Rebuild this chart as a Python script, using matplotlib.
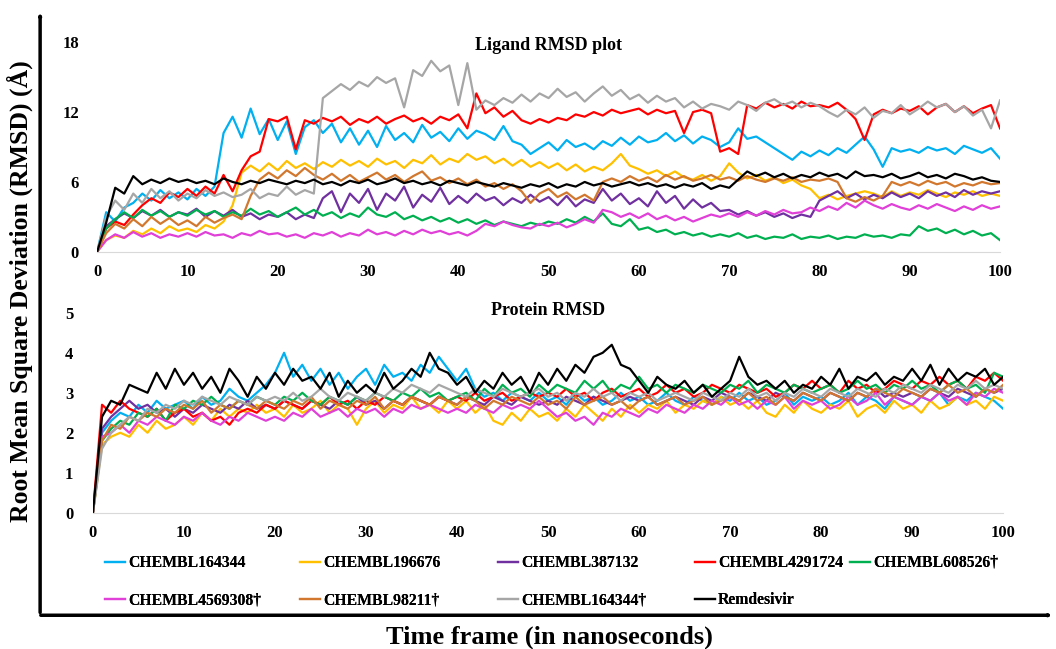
import matplotlib
matplotlib.use('Agg')
import matplotlib.pyplot as plt
import numpy as np

plt.rcParams['font.family'] = ['Liberation Serif', 'DejaVu Serif']
plt.rcParams['font.weight'] = 'bold'

# Tempo (ns), amostrado a cada 1 ns
tempo = np.arange(0, 101)

nomes = ['CHEMBL164344', 'CHEMBL196676', 'CHEMBL387132', 'CHEMBL4291724', 'CHEMBL608526\u2020',
         'CHEMBL4569308\u2020', 'CHEMBL98211\u2020', 'CHEMBL164344\u2020', 'Remdesivir']
cores = ['#00B0F0', '#FFC000', '#7030A0', '#FF0000', '#00B050',
         '#E040D8', '#D2782E', '#A6A6A6', '#000000']

# ---- Ligand RMSD (Å) ----
lig_164344 = [0, 3.4, 2.6, 3.8, 4.2, 5.0, 4.4, 5.3, 4.6, 5.1,
              4.5, 5.4, 4.8, 5.6, 10.2, 11.6, 9.8, 12.3, 10.1, 11.4,
              9.6, 11.2, 8.4, 10.7, 11.3, 10.2, 11.0, 9.4, 10.6, 9.2,
              10.4, 9.0, 10.8, 9.6, 10.2, 9.4, 10.9, 9.8, 10.3, 9.5,
              10.6, 9.7, 10.4, 10.1, 9.6, 10.8, 9.5, 9.2, 8.4, 8.9,
              9.4, 8.7, 9.6, 9.0, 9.3, 8.8, 9.5, 9.1, 9.8, 9.2,
              9.9, 9.4, 9.6, 10.2, 9.5, 10.0, 9.3, 9.9, 9.6, 9.0,
              9.4, 10.6, 9.7, 9.9, 9.4, 8.9, 8.4, 7.9, 8.6, 8.2,
              8.7, 8.3, 8.9, 8.5, 9.2, 9.9, 8.8, 7.3, 8.9, 8.6,
              8.8, 8.5, 9.0, 8.7, 8.9, 8.4, 9.1, 8.8, 8.5, 8.9, 8.0]
lig_196676 = [0, 1.0, 1.4, 1.2, 1.8, 1.5, 2.0, 1.6, 2.2, 1.8,
              2.0, 1.7, 2.3, 2.0, 2.6, 4.0, 6.8, 7.4, 6.9, 7.6,
              7.0, 7.8, 7.2, 7.6, 7.1, 7.7, 7.3, 7.9, 7.4, 7.8,
              7.3, 8.0, 7.5, 7.8, 7.2, 7.9, 7.6, 8.3, 7.5, 8.0,
              7.7, 8.4, 7.9, 8.2, 7.6, 8.0, 7.4, 7.9, 7.3, 7.7,
              7.2, 7.6, 7.0, 7.5, 6.9, 7.3, 7.0, 7.6, 8.4, 7.4,
              7.1, 6.7, 7.0, 6.5, 6.9, 6.4, 6.2, 6.6, 6.1, 6.5,
              7.6, 6.8, 6.3, 6.6, 6.1, 6.4, 5.9, 6.2, 5.7, 5.4,
              4.6, 4.9, 4.5, 4.8, 5.0, 5.2, 5.0, 4.7, 5.2, 4.8,
              5.1, 4.9, 5.3, 5.0, 4.7, 5.1, 4.9, 5.2, 4.8, 5.0, 4.8]
lig_387132 = [0, 2.2, 2.8, 3.3, 2.9, 3.5, 3.1, 3.6, 3.0, 3.4,
              3.2, 3.7, 3.0, 3.5, 3.1, 3.6, 3.0, 3.3, 2.8, 3.2,
              3.0, 3.4, 2.8, 3.2, 2.9, 4.6, 5.2, 3.4, 5.0, 4.2,
              5.4, 3.6, 5.0, 4.4, 5.6, 3.8, 4.9, 4.3, 5.5, 4.1,
              4.8, 4.2, 5.0, 4.4, 4.7, 4.0, 4.6, 4.2, 4.9, 4.3,
              4.7, 4.0, 4.8, 3.9, 4.5, 4.2, 5.4, 4.4, 5.0, 4.1,
              4.6, 3.9, 5.2, 4.2, 4.8, 3.7, 4.5, 3.8, 4.2, 3.5,
              3.6, 3.2, 3.5, 3.1, 3.4, 3.0, 3.3, 2.9, 3.2, 3.0,
              4.4, 4.8, 5.2, 4.6, 5.0, 4.5, 4.9, 4.6, 5.1, 4.7,
              5.0, 4.6, 5.2, 4.8, 5.1, 4.7, 5.3, 4.9, 5.2, 5.0, 5.2]
lig_4291724 = [0, 2.0, 2.6, 2.3, 3.2, 4.0, 4.6, 4.2, 5.1, 4.7,
               5.4, 4.8, 5.6, 5.0, 6.6, 5.2, 7.0, 8.2, 8.6, 11.4,
               11.2, 11.6, 8.8, 11.3, 11.0, 11.5, 11.2, 11.6, 10.9, 11.4,
               11.1, 11.6, 11.0, 11.4, 11.7, 11.2, 11.5, 11.0, 11.6, 11.3,
               11.8, 10.6, 13.6, 11.9, 12.4, 11.6, 12.1, 11.3, 11.0, 11.4,
               11.1, 11.5, 11.3, 11.8, 11.6, 12.0, 11.7, 12.2, 11.9, 12.1,
               12.3, 11.8, 12.2, 11.9, 12.1, 10.2, 12.0, 12.2, 11.9, 8.6,
               8.9, 8.4, 12.6, 12.3, 12.8, 12.4, 12.7, 12.3, 12.9, 12.5,
               12.6, 12.4, 12.8, 12.2, 11.4, 9.6, 11.8, 12.2, 11.9, 12.3,
               12.1, 12.5, 11.8, 12.4, 12.7, 12.0, 12.5, 11.9, 12.3, 12.6, 10.6]
lig_608526 = [0, 2.0, 2.8, 3.4, 2.9, 3.6, 3.1, 3.5, 3.0, 3.4,
              3.1, 3.6, 3.2, 3.5, 3.0, 3.4, 3.1, 3.7, 3.2, 3.5,
              3.0, 3.4, 3.8, 3.2, 3.6, 3.1, 3.4, 2.9, 3.3, 3.0,
              3.8, 3.2, 3.0, 3.4, 2.8, 3.1, 2.7, 3.0, 2.6, 2.9,
              2.5, 2.8, 2.4, 2.7, 2.3, 2.6, 2.4, 2.2, 2.5, 2.3,
              2.6, 2.4, 2.8, 2.5, 3.0, 2.6, 3.3, 2.4, 2.2, 2.8,
              1.9, 2.1, 1.7, 1.9, 1.5, 1.7, 1.4, 1.6, 1.3, 1.5,
              1.3, 1.6, 1.2, 1.4, 1.1, 1.3, 1.2, 1.5, 1.1, 1.3,
              1.2, 1.4, 1.1, 1.3, 1.2, 1.5, 1.3, 1.4, 1.2, 1.5,
              1.4, 2.2, 1.8, 2.0, 1.6, 1.9, 1.5, 1.8, 1.4, 1.6, 1.0]
lig_4569308 = [0, 1.0, 1.5, 1.2, 1.7, 1.3, 1.6, 1.2, 1.5, 1.3,
               1.6, 1.3, 1.7, 1.4, 1.5, 1.2, 1.6, 1.4, 1.8, 1.5,
               1.6, 1.3, 1.5, 1.2, 1.6, 1.4, 1.7, 1.3, 1.6, 1.4,
               1.9, 1.5, 1.7, 1.4, 1.8, 1.5, 1.9, 1.6, 1.8, 1.5,
               1.7, 1.4, 1.8, 2.4, 2.2, 2.6, 2.3, 2.1, 2.0, 2.4,
               2.2, 2.5, 2.1, 2.4, 2.8, 2.5, 3.6, 3.4, 3.0, 3.3,
               2.9, 3.3, 2.8, 3.1, 2.7, 3.0, 2.6, 2.9, 3.2, 3.0,
               3.3, 3.0, 3.4, 3.1, 3.5, 3.2, 3.6, 3.3, 3.4, 3.8,
               3.5, 3.9, 3.6, 4.2, 3.8, 4.4, 4.0, 3.7, 4.1, 3.8,
               3.6, 4.0, 3.7, 4.1, 3.8, 3.5, 3.9, 3.6, 4.0, 3.7, 3.9]
lig_98211 = [0, 1.6, 2.4, 2.0, 2.8, 2.2, 3.0, 2.4, 2.9, 2.3,
             2.7, 2.2, 3.0, 2.5, 2.9, 3.2, 2.8, 4.8, 6.2, 6.8,
             6.3, 7.0, 6.5, 7.2, 6.6, 6.2, 6.7, 6.1, 6.6, 6.0,
             6.4, 6.8, 6.2, 6.6, 6.0, 6.5, 6.9, 6.1, 6.4, 5.9,
             6.3, 5.8, 6.2, 5.6, 5.9, 5.4, 5.8, 5.2, 4.2, 5.0,
             5.4, 4.7, 5.1, 4.5, 4.9, 4.4, 6.0, 6.3, 6.0, 6.5,
             6.1, 6.4, 6.0, 6.6, 6.2, 6.5, 6.1, 6.3, 6.6, 6.2,
             6.4, 6.1, 6.5, 6.2, 6.0, 6.3, 6.1, 6.4, 6.0, 6.2,
             6.1, 6.3, 6.0, 4.6, 4.3, 4.7, 4.4, 4.8, 6.0, 5.7,
             6.0, 5.7, 6.1, 5.8, 6.0, 5.6, 5.9, 5.7, 6.0, 5.8, 5.9]
lig_164344b = [0, 3.0, 4.4, 3.6, 5.0, 4.2, 5.4, 4.6, 5.2, 4.4,
               5.0, 4.6, 5.3, 4.8, 5.1, 4.7, 4.9, 5.4, 4.6, 5.0,
               4.8, 5.6, 4.9, 5.3, 5.0, 13.2, 13.8, 14.4, 13.9, 14.6,
               14.2, 15.0, 14.5, 14.9, 12.4, 15.6, 15.1, 16.4, 15.5, 16.0,
               12.6, 16.2, 12.2, 13.0, 12.6, 13.2, 12.8, 13.5, 12.9, 13.6,
               13.2, 14.0, 13.3, 13.7, 12.9, 13.6, 14.2, 13.4, 13.9, 13.1,
               13.5, 12.8, 13.4, 12.9, 13.2, 12.4, 12.9, 12.3, 12.7, 12.5,
               12.2, 12.9, 12.6, 12.1, 12.8, 13.1, 12.6, 12.9, 12.4, 12.8,
               12.5, 12.0, 11.6, 12.2, 11.8, 12.4, 11.5, 12.1, 11.9, 12.6,
               11.8, 12.3, 12.9, 12.4, 12.7, 12.0, 12.5, 11.7, 12.2, 10.6, 13.0]
lig_remdesivir = [0, 2.5, 5.5, 5.0, 6.5, 5.8, 6.2, 5.9, 6.3, 6.0,
                  6.2, 5.9, 6.1, 5.8, 6.3, 6.0, 5.8, 6.1, 5.9, 6.2,
                  6.0, 5.8, 6.1, 5.9, 6.2, 5.8, 6.0, 5.7, 6.1, 5.9,
                  6.2, 5.8, 6.0, 6.3, 5.9, 6.1, 5.8, 6.0, 5.7, 6.1,
                  5.9, 5.7, 6.0, 5.8, 5.6, 5.9, 5.7, 5.5, 5.8, 5.6,
                  5.9, 5.5, 5.8, 5.6, 6.0, 5.7, 5.9, 5.6, 5.8, 6.0,
                  5.7, 5.9, 5.6, 5.8, 5.5, 5.8, 5.6, 5.9, 5.4, 5.7,
                  5.5, 6.2, 6.9, 6.5, 6.8, 6.4, 6.7, 6.3, 6.6, 6.4,
                  6.8, 6.5, 6.7, 6.3, 6.9, 6.5, 6.6, 6.4, 6.7, 6.3,
                  6.5, 6.8, 6.4, 6.6, 6.3, 6.7, 6.5, 6.2, 6.4, 6.1, 6.0]

# ---- Protein RMSD (Å) ----
pro_164344 = [0, 2.0, 2.3, 2.5, 2.4, 2.7, 2.5, 2.8, 2.6, 2.7,
              2.8, 2.6, 2.9, 2.7, 2.8, 3.1, 2.9, 2.8, 3.0, 3.2,
              3.5, 4.0, 3.4, 3.7, 3.3, 3.6, 3.2, 3.5, 3.1, 3.4,
              3.6, 3.2, 3.7, 3.4, 3.5, 3.3, 3.7, 3.5, 3.9, 3.6,
              3.3, 3.6, 3.1, 2.9, 3.0, 2.8, 3.0, 2.9, 2.8, 3.0,
              2.8, 2.9, 2.7, 3.0, 2.8, 2.9, 2.7, 2.8, 3.0, 2.8,
              2.9, 2.7, 2.8, 3.0, 2.8, 2.7, 2.9, 2.8, 2.7, 2.9,
              2.8, 3.0, 2.8, 2.9, 2.7, 2.8, 3.0, 2.7, 2.9, 2.8,
              2.9, 2.7, 2.8, 3.0, 2.7, 2.9, 2.8, 2.6, 2.9, 2.8,
              2.7, 2.9, 2.8, 3.0, 2.7, 2.9, 2.8, 3.0, 2.9, 2.8, 2.6]
pro_196676 = [0, 1.7, 1.9, 2.0, 1.9, 2.2, 2.0, 2.3, 2.1, 2.2,
              2.4, 2.2, 2.5, 2.3, 2.6, 2.4, 2.6, 2.5, 2.7, 2.5,
              2.6, 2.4, 2.7, 2.5, 2.6, 2.8, 2.5, 2.7, 2.6, 2.2,
              2.6, 2.8, 2.5, 2.7, 2.6, 2.9, 2.6, 2.7, 2.5, 2.8,
              2.6, 2.8, 2.5, 2.7, 2.3, 2.2, 2.5, 2.3, 2.6, 2.4,
              2.5, 2.3, 2.6, 2.4, 2.7, 2.5, 2.3, 2.6, 2.4, 2.7,
              2.5, 2.7, 2.6, 2.8, 2.5, 2.7, 2.6, 2.8, 2.7, 2.9,
              2.7, 2.8, 2.6, 2.8, 2.5, 2.4, 2.7, 2.5, 2.8, 2.6,
              2.5, 2.7, 2.6, 2.8, 2.4, 2.6, 2.7, 2.5, 2.8, 2.6,
              2.7, 2.5, 2.8, 2.6, 2.7, 2.9, 2.7, 2.8, 2.6, 2.9, 2.8]
pro_387132 = [0, 2.1, 2.4, 2.6, 2.8, 2.6, 2.7, 2.5, 2.6, 2.4,
              2.6, 2.5, 2.7, 2.6, 2.5, 2.7, 2.6, 2.8, 2.6, 2.7,
              2.6, 2.8, 2.7, 2.6, 2.8, 2.7, 2.6, 2.8, 2.7, 2.9,
              2.7, 2.8, 2.6, 2.8, 2.7, 2.9, 2.8, 2.7, 2.9, 2.8,
              2.7, 2.9, 2.8, 2.7, 2.9, 2.8, 2.7, 2.9, 2.8, 2.7,
              2.8, 2.7, 2.9, 2.8, 2.7, 2.9, 2.8, 2.7, 2.8, 2.9,
              2.8, 2.9, 2.7, 2.8, 2.9, 2.8, 2.7, 2.9, 2.8, 3.0,
              2.9, 2.8, 3.0, 2.9, 2.8, 3.0, 2.9, 2.8, 3.0, 2.9,
              2.8, 3.0, 2.9, 2.8, 3.0, 2.9, 3.1, 2.9, 3.0, 2.9,
              3.0, 2.9, 3.1, 3.0, 2.9, 3.1, 3.0, 2.9, 3.1, 3.0, 3.1]
pro_4291724 = [0, 2.7, 2.5, 2.8, 2.6, 2.5, 2.4, 2.6, 2.3, 2.5,
               2.6, 2.4, 2.5, 2.3, 2.4, 2.2, 2.5, 2.6, 2.5, 2.7,
               2.6, 2.8, 2.7, 2.6, 2.8, 2.7, 2.9, 2.7, 2.8, 2.6,
               2.8, 2.7, 2.9, 2.8, 2.7, 2.9, 2.8, 2.7, 2.9, 2.8,
               2.9, 2.8, 3.0, 2.8, 2.9, 3.0, 2.8, 2.9, 3.0, 2.9,
               3.0, 2.9, 3.1, 2.9, 3.0, 2.8, 3.0, 3.1, 2.9, 3.0,
               3.1, 2.9, 3.0, 3.2, 3.0, 3.1, 2.9, 3.0, 3.2, 3.1,
               3.0, 3.2, 3.1, 3.0, 3.1, 2.9, 3.0, 3.2, 3.1, 3.3,
               3.1, 3.2, 3.0, 3.3, 3.1, 3.2, 3.0, 3.1, 3.3, 3.2,
               3.1, 3.3, 3.2, 3.4, 3.2, 3.3, 3.1, 3.4, 3.3, 3.5, 3.3]
pro_608526 = [0, 1.8, 2.1, 2.3, 2.2, 2.5, 2.4, 2.6, 2.3, 2.7,
              2.6, 2.8, 2.7, 2.9, 2.7, 2.6, 2.8, 2.7, 2.9, 2.8,
              2.7, 2.9, 2.8, 3.0, 2.8, 2.7, 2.9, 2.8, 2.7, 2.9,
              2.8, 3.0, 2.9, 2.8, 3.0, 2.9, 3.1, 2.9, 3.0, 2.8,
              2.9, 3.0, 2.8, 3.1, 2.9, 3.2, 3.0, 3.1, 2.9, 3.2,
              3.0, 3.2, 3.1, 3.0, 3.3, 3.1, 3.3, 3.0, 3.2, 3.1,
              3.4, 3.1, 3.2, 3.0, 3.2, 3.1, 3.0, 3.2, 3.1, 3.0,
              3.2, 3.1, 3.3, 3.0, 3.2, 3.1, 3.0, 3.2, 3.1, 3.0,
              3.1, 3.2, 3.0, 3.1, 3.3, 3.1, 3.2, 3.0, 3.2, 3.1,
              3.3, 3.1, 3.2, 3.0, 3.2, 3.3, 3.1, 3.2, 3.0, 3.5, 3.4]
pro_4569308 = [0, 1.9, 2.0, 2.2, 2.0, 2.3, 2.2, 2.4, 2.3, 2.2,
               2.4, 2.3, 2.5, 2.3, 2.2, 2.4, 2.3, 2.5, 2.4, 2.3,
               2.4, 2.3, 2.5, 2.4, 2.6, 2.4, 2.5, 2.6, 2.4, 2.6,
               2.5, 2.6, 2.4, 2.6, 2.5, 2.7, 2.6, 2.7, 2.6, 2.5,
               2.6, 2.5, 2.7, 2.6, 2.5, 2.7, 2.6, 2.7, 2.6, 2.8,
               2.6, 2.4, 2.5, 2.3, 2.4, 2.2, 2.5, 2.4, 2.6, 2.5,
               2.4, 2.6, 2.5, 2.7, 2.6, 2.5, 2.7, 2.6, 2.8, 2.7,
               2.9, 2.7, 2.8, 2.6, 2.8, 2.7, 2.9, 2.6, 2.8, 2.7,
               2.8, 2.6, 2.7, 2.9, 2.7, 2.8, 3.0, 2.7, 2.9, 2.8,
               2.7, 2.9, 2.8, 3.0, 2.8, 2.9, 2.7, 3.0, 2.9, 3.1, 3.0]
pro_98211 = [0, 1.8, 2.2, 2.1, 2.4, 2.3, 2.5, 2.4, 2.6, 2.5,
             2.7, 2.6, 2.8, 2.5, 2.7, 2.6, 2.8, 2.7, 2.6, 2.8,
             2.7, 2.6, 2.8, 2.7, 2.9, 2.6, 2.8, 2.7, 2.6, 2.8,
             2.7, 2.9, 2.6, 2.8, 2.7, 2.9, 2.8, 2.7, 2.9, 2.8,
             2.7, 2.9, 2.8, 2.6, 2.8, 2.7, 2.9, 2.8, 2.7, 2.9,
             2.7, 2.8, 2.6, 2.9, 2.7, 2.8, 2.9, 2.7, 2.8, 2.6,
             2.8, 2.9, 2.7, 2.8, 2.9, 2.7, 2.8, 2.9, 2.7, 2.8,
             2.9, 2.8, 3.0, 2.8, 2.9, 2.7, 2.9, 2.8, 3.0, 2.9,
             2.8, 3.0, 2.9, 2.8, 3.0, 2.9, 3.1, 3.0, 2.9, 3.1,
             3.0, 2.9, 3.1, 3.0, 3.2, 3.0, 3.1, 2.9, 3.1, 3.0, 3.2]
pro_164344b = [0, 1.6, 2.0, 2.2, 2.4, 2.3, 2.6, 2.5, 2.7, 2.6,
               2.8, 2.7, 2.9, 2.8, 2.7, 2.9, 2.8, 2.7, 2.9, 2.8,
               2.9, 2.8, 3.0, 2.8, 2.9, 3.1, 2.9, 2.8, 3.0, 2.9,
               2.8, 3.0, 2.9, 3.1, 3.0, 3.2, 3.1, 3.0, 3.2, 3.1,
               3.0, 2.9, 3.1, 3.0, 2.9, 3.1, 3.0, 2.9, 3.0, 3.1,
               2.9, 3.0, 2.8, 3.0, 2.9, 3.1, 2.9, 3.0, 2.8, 3.0,
               2.9, 3.0, 2.8, 2.9, 3.0, 2.9, 2.8, 3.0, 2.9, 2.8,
               3.0, 2.9, 3.1, 2.9, 3.0, 2.8, 3.0, 2.9, 3.1, 3.0,
               2.9, 3.1, 3.0, 2.9, 3.1, 3.0, 2.9, 3.1, 3.0, 3.2,
               3.1, 3.0, 3.2, 3.1, 3.0, 3.2, 3.1, 3.3, 3.1, 3.2, 3.1]
pro_remdesivir = [0, 2.4, 2.8, 2.7, 3.2, 3.1, 3.0, 3.5, 3.1, 3.6,
                  3.2, 3.5, 3.1, 3.4, 3.0, 3.6, 3.3, 2.9, 3.4, 3.1,
                  3.5, 3.2, 3.6, 3.3, 3.4, 3.1, 3.5, 2.9, 3.3, 3.0,
                  3.2, 3.0, 3.5, 3.1, 3.3, 3.6, 3.4, 4.0, 3.6, 3.5,
                  3.2, 3.4, 3.0, 3.3, 3.1, 3.5, 3.2, 3.4, 3.0, 3.5,
                  3.2, 3.6, 3.3, 3.7, 3.5, 3.9, 4.0, 4.2, 3.7, 3.6,
                  3.3, 3.0, 3.4, 3.2, 3.1, 3.3, 3.0, 3.2, 2.9, 3.1,
                  3.3, 3.9, 3.4, 3.2, 3.3, 3.1, 3.3, 3.0, 3.2, 3.1,
                  3.4, 3.2, 3.6, 3.1, 3.4, 3.3, 3.5, 3.2, 3.4, 3.3,
                  3.6, 3.3, 3.7, 3.2, 3.6, 3.3, 3.5, 3.4, 3.6, 3.2, 3.4]

ligante = [lig_164344, lig_196676, lig_387132, lig_4291724, lig_608526,
           lig_4569308, lig_98211, lig_164344b, lig_remdesivir]
proteina = [pro_164344, pro_196676, pro_387132, pro_4291724, pro_608526,
            pro_4569308, pro_98211, pro_164344b, pro_remdesivir]

fig = plt.figure(figsize=(10.56, 6.49), dpi=100)
ax1 = fig.add_axes([0.092, 0.612, 0.855, 0.323])
ax2 = fig.add_axes([0.088, 0.210, 0.862, 0.308])

linhas = []
for ax, dados in [(ax1, ligante), (ax2, proteina)]:
    for i in range(9):
        l, = ax.plot(tempo, dados[i], color=cores[i], lw=1.6, label=nomes[i])
        if ax is ax1:
            linhas.append(l)
    ax.set_xlim(0, 100)
    ax.set_xticks(np.arange(0, 101, 10))
    for s in ['top', 'right', 'left']:
        ax.spines[s].set_visible(False)
    ax.spines['bottom'].set_color('#D9D9D9')
    ax.tick_params(length=0, labelsize=12)
    ax.tick_params(axis='x', pad=9)
    for t in ax.get_xticklabels() + ax.get_yticklabels():
        t.set_fontweight('bold')

ax1.set_ylim(0, 18)
ax1.set_yticks([0, 6, 12, 18])
ax1.tick_params(axis='y', pad=13)
ax2.set_ylim(0, 5)
ax2.set_yticks([0, 1, 2, 3, 4, 5])
ax2.tick_params(axis='y', pad=14)

ax1.text(0.5, 0.985, 'Ligand RMSD plot', transform=ax1.transAxes, ha='center',
         va='center', fontsize=13, fontweight='bold')
ax2.text(0.5, 1.01, 'Protein RMSD', transform=ax2.transAxes, ha='center',
         va='center', fontsize=13, fontweight='bold')

# legenda: uma caixa por item, nas posições do original (pixels)
leg_x = [105, 300, 498, 695, 850, 105, 300, 498, 695]
leg_y = [563, 563, 563, 563, 563, 600, 600, 600, 600]
for k in range(9):
    lg = fig.legend([linhas[k]], [nomes[k]], loc='center left',
                    bbox_to_anchor=(leg_x[k] / 1056, 1 - leg_y[k] / 649),
                    frameon=False, prop={'size': 11.3, 'weight': 'bold'},
                    handlelength=1.25, handletextpad=0.2, borderpad=0,
                    borderaxespad=0)
    fig.add_artist(lg)

# eixos grandes com setas
fig.patches.append(matplotlib.patches.FancyArrowPatch(
    (0.038, 0.052), (0.038, 0.985), transform=fig.transFigure,
    arrowstyle='-|>,head_length=0.6,head_width=0.3', lw=2.5, color='black'))
fig.patches.append(matplotlib.patches.FancyArrowPatch(
    (0.036, 0.052), (0.999, 0.052), transform=fig.transFigure,
    arrowstyle='-|>,head_length=0.6,head_width=0.3', lw=2.5, color='black'))

fig.text(0.019, 0.552, 'Root Mean Square Deviation (RMSD) (\u00c5)', rotation=90,
         ha='center', va='center', fontsize=18.5, fontweight='bold')
fig.text(0.52, 0.018, 'Time frame (in nanoseconds)', ha='center', va='center',
         fontsize=19, fontweight='bold')

fig.savefig('out.png', dpi=100)
